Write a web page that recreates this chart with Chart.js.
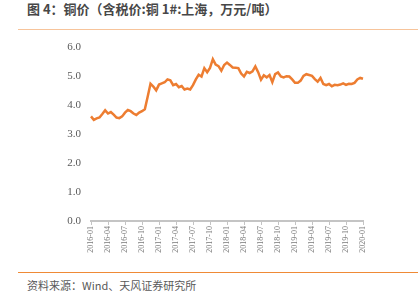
<!DOCTYPE html>
<html>
<head>
<meta charset="utf-8">
<script src="https://cdn.jsdelivr.net/npm/chart.js@4"></script>
<style>
  body { margin: 0; width: 420px; height: 303px; background: #fff; position: relative; overflow: hidden; }
  #title { position: absolute; left: 27px; top: 0px; font: bold 13px "Noto Sans CJK SC", sans-serif; color: #474747; line-height: 17px; }
  #topLine { position: absolute; left: 18px; top: 29px; width: 400px; height: 1px; background: #f7c49b; }
  #chartBox { position: absolute; left: 0; top: 31px; width: 420px; height: 234px; }
  #bottomLine { position: absolute; left: 18px; top: 272px; width: 400px; height: 1px; background: #ef8a36; }
  #source { position: absolute; left: 27px; top: 277px; font: 11px "Noto Sans CJK SC", sans-serif; color: #595959; line-height: 16px; }
</style>
</head>
<body>
<div id="title">图 4：铜价（含税价:铜 1#:上海，万元/吨）</div>
<div id="topLine"></div>
<div id="chartBox"><canvas id="copperChart" width="420" height="234"></canvas></div>
<div id="bottomLine"></div>
<div id="source">资料来源：Wind、天风证券研究所</div>
<script>
// half-month dates from 2016-01-01 to 2020-01-01
const dates = [];
for (let y = 2016; y <= 2020; y++) {
    for (let m = 1; m <= 12; m++) {
        const mm = String(m).padStart(2, '0');
        dates.push(`${y}-${mm}-01`);
        if (y === 2020) break;
        dates.push(`${y}-${mm}-16`);
    }
}

// copper price, 10k yuan/ton
const prices2016 = [3.62, 3.50, 3.55, 3.58, 3.70, 3.83, 3.72, 3.77, 3.68, 3.58, 3.56, 3.62,
                    3.75, 3.84, 3.80, 3.72, 3.67, 3.75, 3.80, 3.87, 4.30, 4.75, 4.65, 4.52];
const prices2017 = [4.72, 4.76, 4.80, 4.90, 4.87, 4.70, 4.74, 4.63, 4.67, 4.55, 4.58, 4.55,
                    4.70, 4.90, 5.06, 5.00, 5.29, 5.15, 5.30, 5.60, 5.41, 5.36, 5.20, 5.40];
const prices2018 = [5.48, 5.40, 5.31, 5.30, 5.29, 5.10, 5.00, 5.16, 5.12, 5.18, 5.35, 5.15,
                    4.89, 5.04, 4.97, 5.05, 4.80, 5.08, 5.14, 5.00, 4.97, 5.01, 5.00, 4.90];
const prices2019 = [4.78, 4.78, 4.86, 5.02, 5.08, 5.05, 5.02, 4.91, 4.82, 4.95, 4.74, 4.70,
                    4.74, 4.66, 4.71, 4.70, 4.72, 4.76, 4.71, 4.75, 4.74, 4.78, 4.90, 4.95];
const prices2020 = [4.92];
const prices = [...prices2016, ...prices2017, ...prices2018, ...prices2019, ...prices2020];

// quarterly tick labels shown on the x axis
const tickMonths = ['01', '04', '07', '10'];
const yTicks = [0, 1, 2, 3, 4, 5, 6];

const ctx = document.getElementById('copperChart').getContext('2d');
new Chart(ctx, {
    type: 'line',
    data: {
        labels: dates,
        datasets: [{
            data: prices,
            borderColor: '#ED7D31',
            borderWidth: 2.5,
            pointRadius: 0,
            tension: 0,
            fill: false
        }]
    },
    options: {
        responsive: false,
        animation: false,
        layout: { padding: { top: 3, right: 57, bottom: 0, left: 0 } },
        plugins: { legend: { display: false }, tooltip: { enabled: false } },
        scales: {
            x: {
                type: 'category',
                afterFit: s => { s.height = 44; },
                border: { display: true, color: '#c4c4c4', width: 2 },
                grid: { drawOnChartArea: false, drawTicks: true, tickLength: 4, color: '#c4c4c4' },
                ticks: {
                    autoSkip: false,
                    minRotation: 90,
                    maxRotation: 90,
                    padding: 1,
                    color: '#7a7a7a',
                    font: { family: 'Liberation Serif', size: 8 },
                    callback: function(value) {
                        const lab = this.getLabelForValue(value);
                        if (lab.endsWith('-01') && tickMonths.includes(lab.slice(5, 7))) {
                            return lab.slice(0, 7);
                        }
                        return null;
                    }
                }
            },
            y: {
                min: yTicks[0],
                max: yTicks[yTicks.length - 1],
                afterFit: s => { s.width = 91; },
                border: { display: false },
                grid: { display: false, drawTicks: false },
                ticks: {
                    stepSize: 1,
                    padding: 10,
                    color: '#595959',
                    font: { family: 'Liberation Serif', size: 11 },
                    callback: v => v.toFixed(1)
                }
            }
        }
    }
});
</script>
</body>
</html>
